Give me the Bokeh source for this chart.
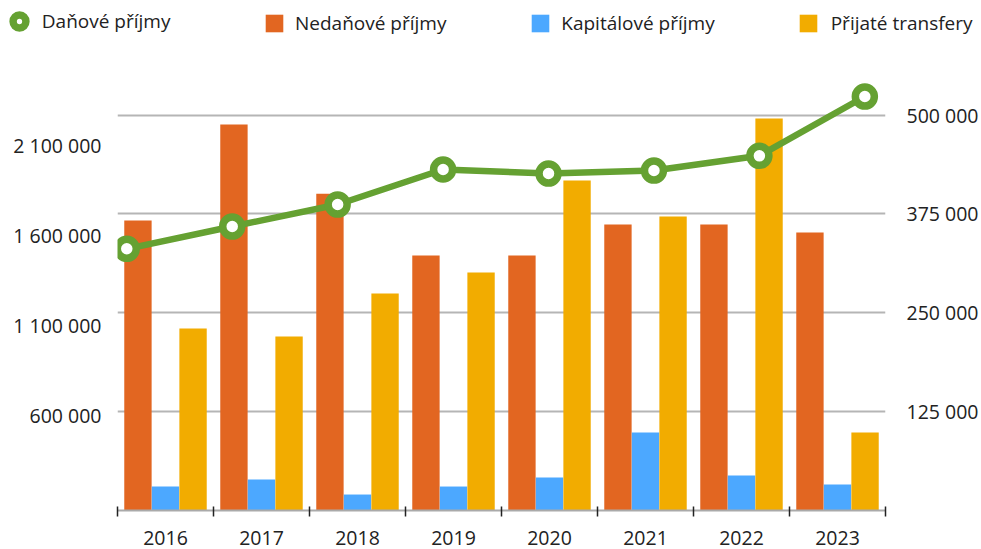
from bokeh.plotting import figure
from bokeh.layouts import column
from bokeh.models import (ColumnDataSource, Range1d, LinearAxis,
                          FixedTicker, Grid, Legend, LegendItem)
from bokeh.core.properties import value
from bokeh.transform import dodge
from bokeh.embed import file_html
from bokeh.resources import INLINE

# ---------------- data ----------------
years = ["2016", "2017", "2018", "2019", "2020", "2021", "2022", "2023"]
danove_prijmy = [1525000, 1648500, 1770400, 1964300, 1942100, 1958700, 2040100, 2368600]
nedanove_prijmy = [366600, 488000, 400400, 322400, 322400, 361600, 361600, 351400]
kapitalove_prijmy = [30300, 39200, 20200, 30300, 41700, 98600, 44200, 32900]
prijate_transfery = [230100, 220000, 274300, 300900, 417200, 371700, 495600, 98600]

left_ticks = [600000, 1100000, 1600000, 2100000]
right_ticks = [125000, 250000, 375000, 500000]

series_labels = ["Daňové příjmy", "Nedaňové příjmy", "Kapitálové příjmy", "Přijaté transfery"]


def fmt(v):
    return f"{v:,}".replace(",", " ")


FONT = "Open Sans"
TEXT = "#222222"
GREEN = "#65a132"
ORANGE = "#e26621"
BLUE = "#4ca8ff"
YELLOW = "#f2ac00"
GRID = "#b5b5b5"

n = len(years)
centers = [i + 0.5 for i in range(n)]
boundaries = list(range(n + 1))

LEG_H = 45

src = ColumnDataSource(dict(pos=centers, years=years, ned=nedanove_prijmy,
                            kap=kapitalove_prijmy, tra=prijate_transfery))
lsrc = ColumnDataSource(dict(i=list(range(n)), v=danove_prijmy))

# ---------------- main chart ----------------
p = figure(width=981, height=549 - LEG_H,
           x_range=Range1d(0, n),
           y_range=Range1d(0, 543616),
           x_axis_location=None, y_axis_location=None,
           toolbar_location=None, output_backend="svg",
           min_border_left=117, min_border_right=94, min_border_top=80 - LEG_H,
           min_border_bottom=39)
p.frame_align = False
p.outline_line_color = None
p.background_fill_color = "white"
for g in p.grid:
    g.visible = False
p.extra_y_ranges = {"line": Range1d(75500, 2457270)}
p.extra_x_ranges = {"linex": Range1d(-0.088, 7.196)}

# right axis (bars) + grid
right_ticker = FixedTicker(ticks=right_ticks, minor_ticks=[])
yr = LinearAxis(ticker=right_ticker,
                major_label_overrides={t: fmt(t) for t in right_ticks},
                axis_line_color=None, major_tick_line_color=None, minor_tick_line_color=None,
                major_tick_out=0, major_tick_in=0,
                major_label_standoff=21,
                major_label_text_font=FONT, major_label_text_font_size="19.5px",
                major_label_text_color=TEXT)
p.add_layout(yr, "right")
p.add_layout(Grid(dimension=1, ticker=right_ticker, grid_line_color=GRID, grid_line_width=2))

# left axis (line)
yl = LinearAxis(y_range_name="line", ticker=FixedTicker(ticks=left_ticks, minor_ticks=[]),
                major_label_overrides={t: fmt(t) for t in left_ticks},
                axis_line_color=None, major_tick_line_color=None, minor_tick_line_color=None,
                major_tick_out=0, major_tick_in=0,
                major_label_standoff=16,
                major_label_text_font=FONT, major_label_text_font_size="19.5px",
                major_label_text_color=TEXT)
p.add_layout(yl, "left")

# x axis: year labels at category centres, ticks at category boundaries
xa = LinearAxis(ticker=FixedTicker(ticks=centers, minor_ticks=boundaries),
                major_label_overrides={c: y for c, y in zip(centers, years)},
                axis_line_color="#aaaaaa", axis_line_width=2,
                major_tick_line_color=None, major_tick_in=0, major_tick_out=6,
                minor_tick_line_color="#222222", minor_tick_line_width=1.5,
                minor_tick_in=4, minor_tick_out=6,
                major_label_standoff=14,
                major_label_text_font=FONT, major_label_text_font_size="19.5px",
                major_label_text_color=TEXT)
p.add_layout(xa, "below")

# bars
bw = 0.285
p.vbar(x=dodge("pos", -0.287), top="ned", width=bw, source=src, fill_color=ORANGE, line_color=None)
p.vbar(x=dodge("pos", 0.0), top="kap", width=bw, source=src, fill_color=BLUE, line_color=None)
p.vbar(x=dodge("pos", 0.287), top="tra", width=bw, source=src, fill_color=YELLOW, line_color=None)

# line
p.line("i", "v", source=lsrc, x_range_name="linex", y_range_name="line",
       line_color=GREEN, line_width=6.5)
p.scatter("i", "v", source=lsrc, x_range_name="linex", y_range_name="line",
          marker="circle", size=19, line_width=7.5, line_color=GREEN, fill_color="white")

# ---------------- legend strip ----------------
# (its ranges lie away from the data, so its renderers only feed the legend swatches)
lp = figure(width=981, height=LEG_H, x_range=Range1d(-3, -2), y_range=Range1d(-2, -1),
            x_axis_location=None, y_axis_location=None,
            toolbar_location=None, output_backend="svg", min_border=0)
lp.frame_align = False
lp.outline_line_color = None
for g in lp.grid:
    g.visible = False

k_line = lp.scatter("i", "v", source=lsrc, marker="circle", size=19, line_width=7.5,
                    line_color=GREEN, fill_color="white")
k_ned = lp.vbar(x="pos", top="ned", width=bw, source=src, fill_color=ORANGE, line_color=None)
k_kap = lp.vbar(x="pos", top="kap", width=bw, source=src, fill_color=BLUE, line_color=None)
k_tra = lp.vbar(x="pos", top="tra", width=bw, source=src, fill_color=YELLOW, line_color=None)


def add_legend(label, renderer, loc, gw, gh, standoff):
    lg = Legend(items=[LegendItem(label=value(label), renderers=[renderer], index=0)],
                location=loc, orientation="horizontal",
                glyph_width=gw, glyph_height=gh, label_height=gh, label_standoff=standoff,
                padding=0, margin=0, spacing=0,
                border_line_color=None, background_fill_alpha=0,
                label_text_font=FONT, label_text_font_size="19px", label_text_color=TEXT)
    lp.add_layout(lg)


add_legend(series_labels[0], k_line, (2.8, LEG_H - 37), 32, 32, 7)
add_legend(series_labels[1], k_ned, (263, LEG_H - 36), 22, 22, 10)
add_legend(series_labels[2], k_kap, (529.3, LEG_H - 36), 22, 22, 10)
add_legend(series_labels[3], k_tra, (796.7, LEG_H - 36), 22, 22, 12)

layout = column(lp, p, spacing=0)
open("out.html", "w").write(file_html(layout, INLINE))
